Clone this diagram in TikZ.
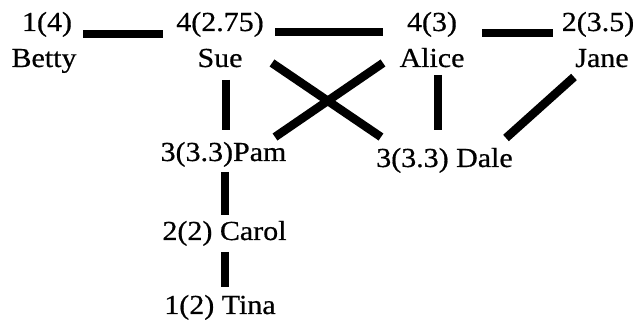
\documentclass[tikz,border=0pt]{standalone}
\usepackage{fontspec}
\setmainfont[FakeStretch=1.09,FakeBold=0.6]{Liberation Serif}
\usetikzlibrary{calc}
\tikzset{
  lbl/.style={inner sep=0pt, anchor=base, font=\fontsize{27.5}{32}\selectfont},
  edge/.style={line width=8.5pt, line cap=butt, black}
}
\begin{document}
\begin{tikzpicture}[x=1pt,y=-1pt]
\useasboundingbox (0,0) rectangle (641,320);
% counts (first row)
\node[lbl] (bettyn) at (47,31) {1(4)};
\node[lbl] (suen) at (220,31) {4(2.75)};
\node[lbl] (alicen) at (432,31) {4(3)};
\node[lbl] (janen) at (598,31) {2(3.5)};
% names
\node[lbl] (betty) at (44,67) {Betty};
\node[lbl] (sue) at (220,67) {Sue};
\node[lbl] (alice) at (432,67) {Alice};
\node[lbl] (jane) at (602,67) {Jane};
\node[lbl] (pam) at (223.5,161) {3(3.3)Pam};
\node[lbl] (dale) at (444.5,167) {3(3.3) Dale};
\node[lbl] (carol) at (224.5,240) {2(2) Carol};
\node[lbl] (tina) at (220,314) {1(2) Tina};
% connectors
\draw[edge] ($(bettyn.base)+(36,3)$) -- ($(suen.base)+(-57,3)$);
\draw[edge] ($(suen.base)+(55,1)$) -- ($(alicen.base)+(-49,1)$);
\draw[edge] ($(alicen.base)+(50,2)$) -- ($(janen.base)+(-45,2)$);
\draw[edge] ($(sue.base)+(6,13)$) -- ($(pam.base)+(2.5,-31)$);
\draw[edge] ($(sue.base)+(52,-4)$) -- ($(dale.base)+(-63.5,-30)$);
\draw[edge] ($(alice.base)+(-49,-4)$) -- ($(pam.base)+(51.5,-24)$);
\draw[edge] ($(alice.base)+(6,8)$) -- ($(dale.base)+(-6.5,-37)$);
\draw[edge] ($(jane.base)+(-28,10)$) -- ($(dale.base)+(61.5,-29)$);
\draw[edge] ($(pam.base)+(1.5,11)$) -- ($(carol.base)+(0.5,-25)$);
\draw[edge] ($(carol.base)+(0.5,12)$) -- ($(tina.base)+(5,-27)$);
\end{tikzpicture}
\end{document}
